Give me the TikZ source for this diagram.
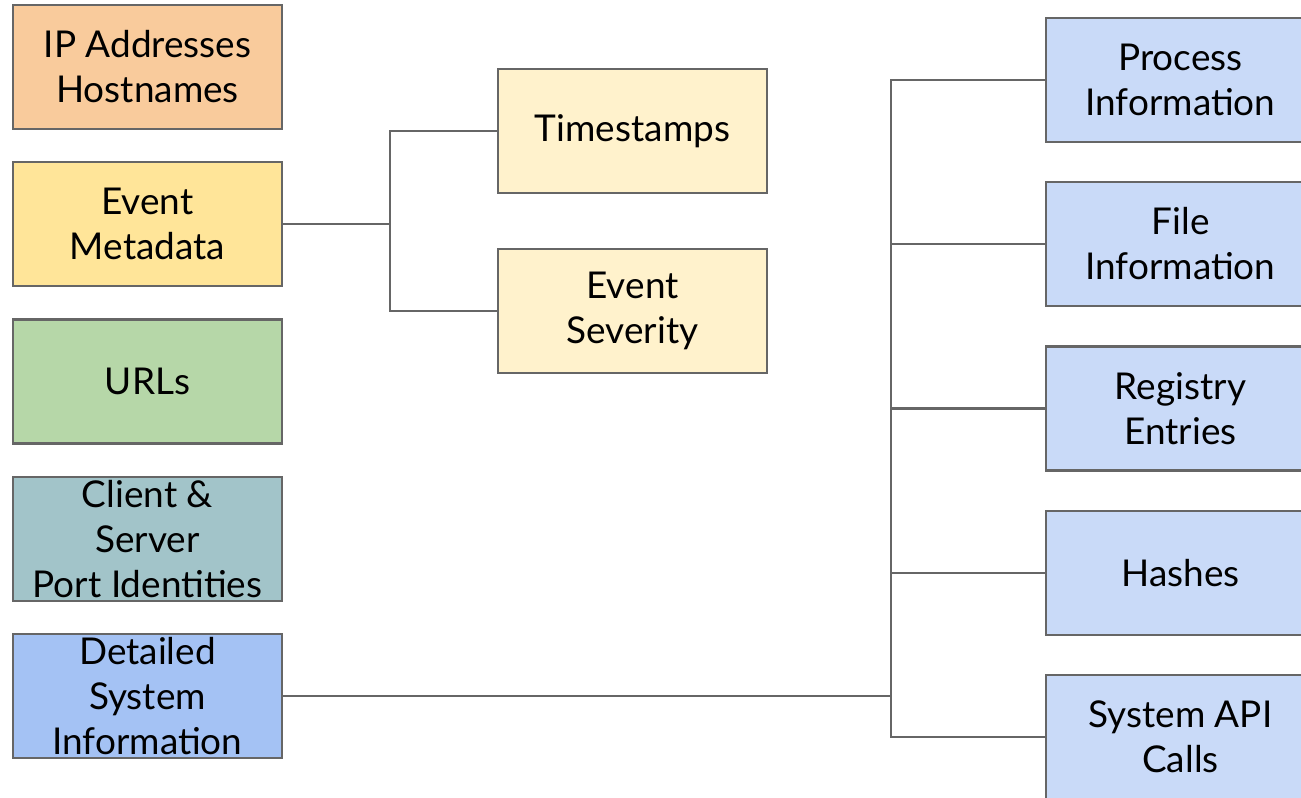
\documentclass[tikz,border=0pt]{standalone}
\usepackage{fontspec}
\setmainfont{Lato}
\usepackage{tikz}
\usetikzlibrary{positioning}
\definecolor{lineGray}{HTML}{666666}
\definecolor{cOrange}{HTML}{F9CB9C}
\definecolor{cYellow}{HTML}{FFE599}
\definecolor{cGreen}{HTML}{B6D7A8}
\definecolor{cTeal}{HTML}{A2C4C9}
\definecolor{cBlue}{HTML}{A4C2F4}
\definecolor{cPaleYellow}{HTML}{FFF2CC}
\definecolor{cPaleBlue}{HTML}{C9DAF8}
\tikzset{
  field/.style={rectangle, draw=lineGray, line width=0.6pt, align=center,
    minimum width=2.69cm, minimum height=1.24cm, inner sep=0pt,
    font=\fontsize{10.5}{12.8}\selectfont},
  link/.style={draw=lineGray, line width=0.65pt}
}

\begin{document}
\begin{tikzpicture}[x=0.01cm, y=-0.01cm]
  \useasboundingbox (0,0) rectangle (1301,798);
  \clip (0,0) rectangle (1301,798);

  % --- Field categories ---
  \node[field, fill=cOrange] (ip) at (147.5,67) {IP Addresses\\Hostnames};
  \node[field, fill=cYellow] (meta) at (147.5,224) {Event\\Metadata};
  \node[field, fill=cGreen] (url) at (147.5,381.5) {URLs};
  \node[field, fill=cTeal] (port) at (147.5,539) {Client \&\\Server\\Port Identities};
  \node[field, fill=cBlue] (detail) at (147.5,696) {Detailed\\System\\Information};

  % --- Event metadata ---
  \node[field, fill=cPaleYellow] (ts) at (632.5,131) {Timestamps};
  \node[field, fill=cPaleYellow] (sev) at (632.5,311) {Event\\Severity};
  \coordinate (j1) at (390,224);
  \draw[link] (meta.east) -- (j1) |- (ts.west);
  \draw[link] (j1) |- (sev.west);

  % --- System information ---
  \node[field, fill=cPaleBlue] (proc) at (1180.5,80) {Process\\Information};
  \node[field, fill=cPaleBlue] (file) at (1180.5,244) {File\\Information};
  \node[field, fill=cPaleBlue] (reg) at (1180.5,408.5) {Registry\\Entries};
  \node[field, fill=cPaleBlue] (hash) at (1180.5,573) {Hashes};
  \node[field, fill=cPaleBlue] (api) at (1180.5,737) {System API\\Calls};
  \coordinate (j2) at (891,696);
  \draw[link] (detail.east) -- (j2);
  \foreach \n in {proc,file,reg,hash,api}
    \draw[link] (j2) |- (\n.west);
\end{tikzpicture}
\end{document}
